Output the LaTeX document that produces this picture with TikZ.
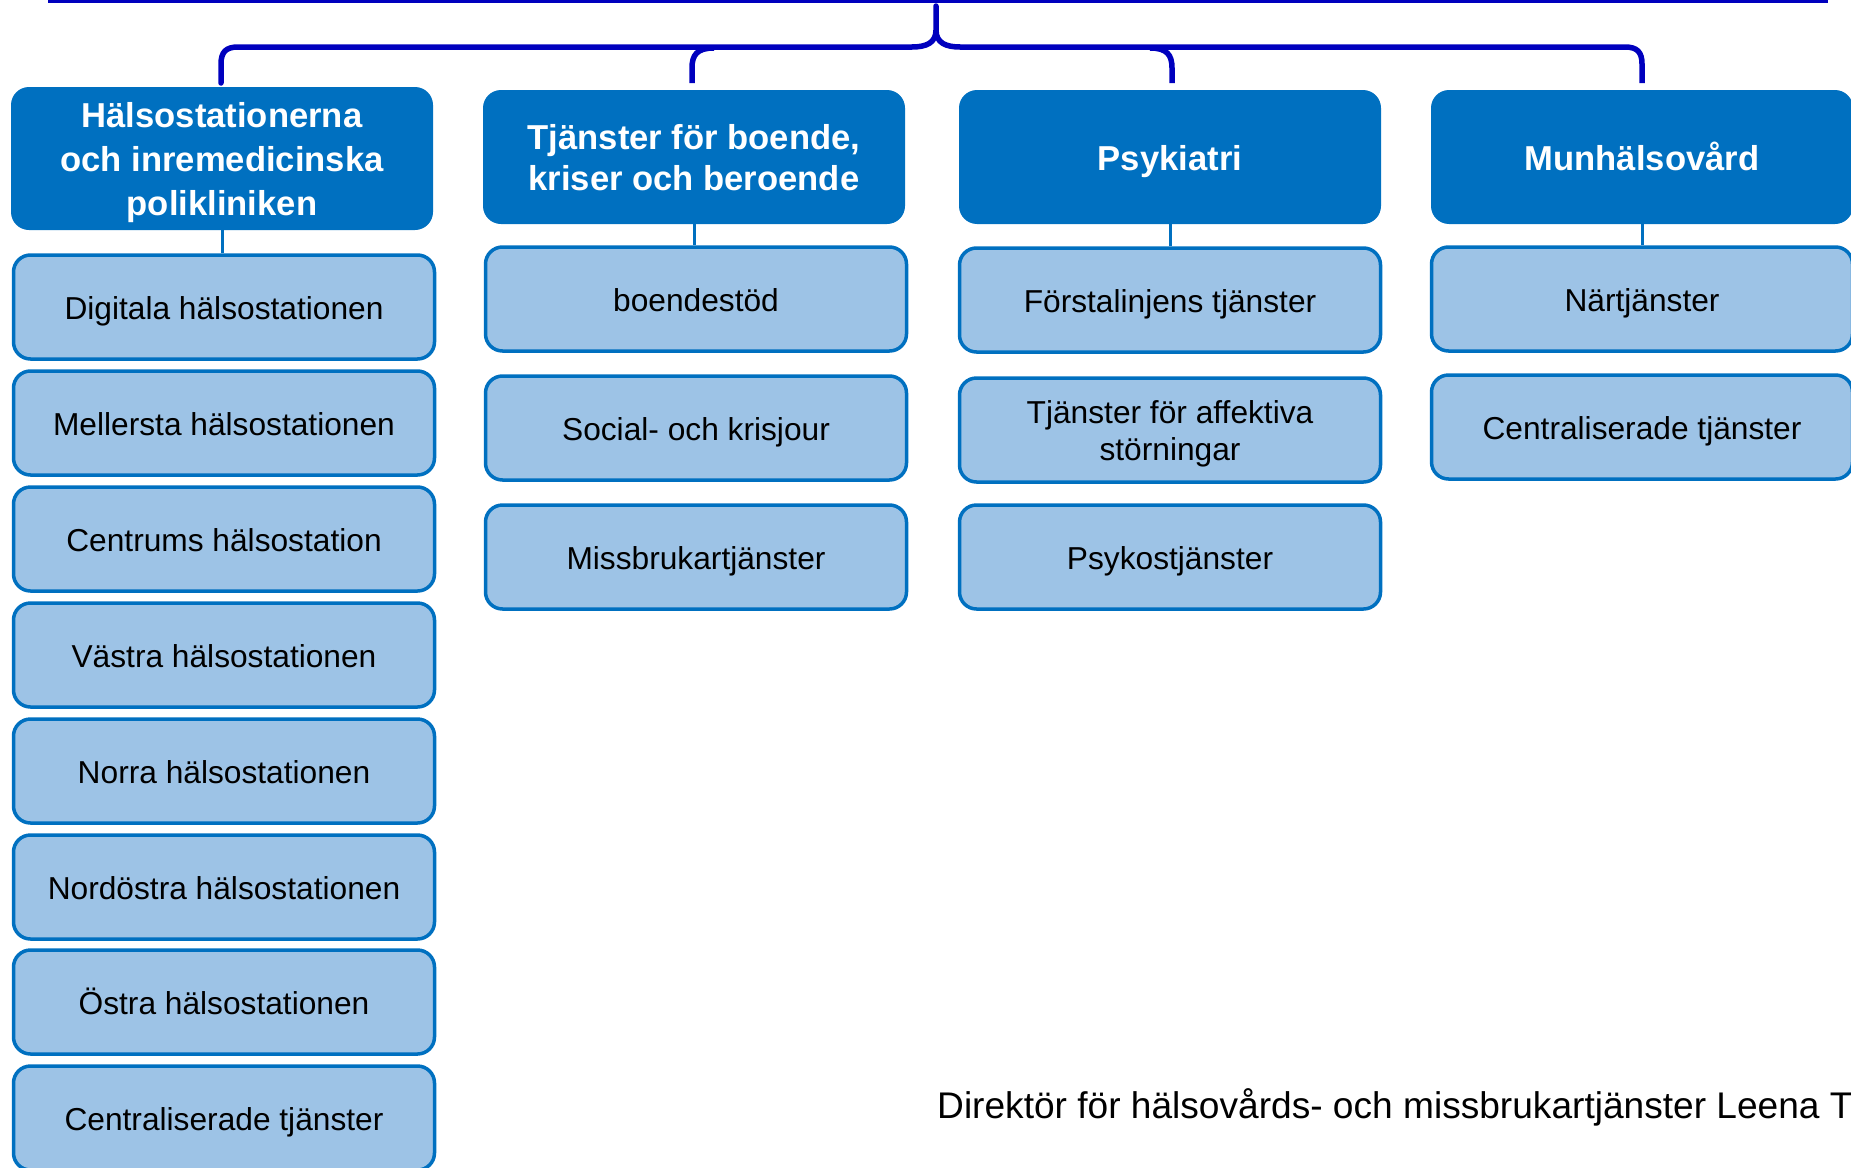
\documentclass[tikz,border=0pt]{standalone}
\usepackage{fontspec}
\setmainfont{Liberation Sans}
\definecolor{headblue}{RGB}{0,112,192}
\definecolor{subfill}{RGB}{157,195,230}
\definecolor{bracketblue}{RGB}{0,0,190}
\newcommand\myhtop{\rule{0pt}{33.5pt}}
\newcommand\myhbot{\rule[-7pt]{0pt}{7pt}}
\newcommand\mystop{\rule{0pt}{30.8pt}}
\newcommand\mysbot{\rule[-6.5pt]{0pt}{6.5pt}}
\tikzset{
  headbox/.style={draw=none, fill=headblue, rounded corners=18pt, minimum width=422pt, minimum height=134pt, align=center, text=white, font=\fontsize{34.6}{41}\selectfont\bfseries, inner sep=0pt},
  subbox/.style={draw=headblue, line width=3.5pt, fill=subfill, rounded corners=17pt, minimum width=421pt, minimum height=104pt, align=center, text=black, font=\fontsize{31.7}{36.7}\selectfont, inner sep=0pt},
  link/.style={draw=headblue, line width=3pt},
  brace/.style={draw=bracketblue, line width=5.5pt},
  topline/.style={draw=bracketblue, line width=3pt}
}
\begin{document}
\begin{tikzpicture}[x=1pt,y=-1pt]
\useasboundingbox (0,0) rectangle (1851,1167);
% top border line (cut off)
\coordinate (tl) at (48,1);
\coordinate (tr) at (1828,1);
\draw[topline] (tl) -- (tr);

% headers
\node[headbox, minimum height=143pt, font=\fontsize{34.6}{44}\selectfont\bfseries] (h1) at (222,158.5) {\myhtop Hälsostationerna\\och inremedicinska\\polikliniken\myhbot};
\node[headbox] (h2) at (694,157) {\myhtop Tjänster för boende,\\kriser och beroende\myhbot};
\node[headbox] (h3) at (1170,157) {\myhtop Psykiatri\myhbot};
\node[headbox] (h4) at (1642,157) {\myhtop Munhälsovård\myhbot};

% column 1
\node[subbox] (a1) at (224,307) {\mystop Digitala hälsostationen\mysbot};
\node[subbox] (a2) at (224,423) {\mystop Mellersta hälsostationen\mysbot};
\node[subbox] (a3) at (224,539) {\mystop Centrums hälsostation\mysbot};
\node[subbox] (a4) at (224,655) {\mystop Västra hälsostationen\mysbot};
\node[subbox] (a5) at (224,771) {\mystop Norra hälsostationen\mysbot};
\node[subbox] (a6) at (224,887) {\mystop Nordöstra hälsostationen\mysbot};
\node[subbox] (a7) at (224,1002) {\mystop Östra hälsostationen\mysbot};
\node[subbox] (a8) at (224,1118) {\mystop Centraliserade tjänster\mysbot};

% column 2
\node[subbox] (b1) at (696,299) {\mystop boendestöd\mysbot};
\node[subbox] (b2) at (696,428) {\mystop Social- och krisjour\mysbot};
\node[subbox] (b3) at (696,557) {\mystop Missbrukartjänster\mysbot};

% column 3
\node[subbox] (c1) at (1170,300) {\mystop Förstalinjens tjänster\mysbot};
\node[subbox] (c2) at (1170,430) {\mystop Tjänster för affektiva\\störningar\mysbot};
\node[subbox] (c3) at (1170,557) {\mystop Psykostjänster\mysbot};

% column 4
\node[subbox] (d1) at (1642,299) {\mystop Närtjänster\mysbot};
\node[subbox] (d2) at (1642,427) {\mystop Centraliserade tjänster\mysbot};

% connectors header -> first sub box
\draw[link] (h1.south) -- (h1.south |- a1.north);
\draw[link] (h2.south) -- (h2.south |- b1.north);
\draw[link] (h3.south) -- (h3.south |- c1.north);
\draw[link] (h4.south) -- (h4.south |- d1.north);

% brace
\coordinate (stemtop) at (936,6);
\coordinate (e1) at (221,83);
\coordinate (e2) at (692,83);
\coordinate (e3) at (1172,83);
\coordinate (e4) at (1642,83);
\draw[brace, line cap=round] (stemtop) -- (936,30)
  .. controls (936,43) and (926,47) .. (912,47) -- (238,47)
  .. controls (226,47) and (221,52) .. (221,64) -- (e1);
\draw[brace] (936,30)
  .. controls (936,43) and (946,47) .. (960,47) -- (1625,47)
  .. controls (1637,47) and (1642,52) .. (1642,64) -- (e4);
\draw[brace] (714,48) .. controls (697,48) and (692,55) .. (692,68) -- (e2);
\draw[brace] (1150,48) .. controls (1167,48) and (1172,55) .. (1172,68) -- (e3);

% footer
\node[anchor=base west, inner sep=0pt, font=\fontsize{37.1}{43}\selectfont] (footer) at (937,1118) {Direktör för hälsovårds- och missbrukartjänster Leena T};
\end{tikzpicture}
\end{document}
